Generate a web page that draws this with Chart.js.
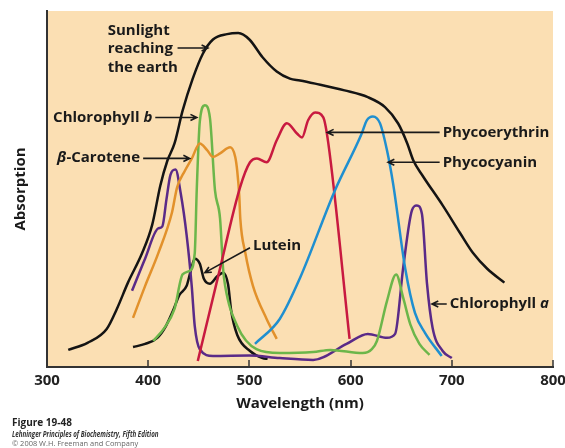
<!DOCTYPE html>
<html>
<head>
<meta charset="utf-8">
<script src="https://cdn.jsdelivr.net/npm/chart.js@4/dist/chart.umd.min.js"></script>
<style>
  body { margin: 0; background: #fff; }
  #wrap { position: relative; width: 565px; height: 448px; }
  .foot { position: absolute; left: 12px; white-space: nowrap; transform-origin: 0 0; font-family: "Open Sans", sans-serif; }
</style>
</head>
<body>
<div id="wrap">
  <canvas id="grafico" width="565" height="448"></canvas>
  <div class="foot" style="top:415px;font-size:10px;font-weight:700;color:#222">Figure 19-48</div>
  <div class="foot" style="top:427px;font-size:9px;font-weight:700;font-style:italic;color:#333;transform:scaleX(0.69)">Lehninger Principles of Biochemistry, Fifth Edition</div>
  <div class="foot" style="top:437px;font-size:8px;color:#666;transform:scaleX(0.93)">© 2008 W.H. Freeman and Company</div>
</div>
<script>
// valores (comprimento de onda em nm, absorção relativa 0-100)
const sunlightNm  = [321, 340, 359, 369, 380, 394, 404, 412, 419, 426, 434, 444, 454, 464, 478, 489, 500, 513, 527, 540, 550, 565, 594, 617, 634, 647, 656, 662, 671, 691, 708, 721, 735, 752];
const sunlightAbs = [4.8, 6.8, 10.7, 16.3, 23.7, 32, 40, 51, 58, 62.8, 72, 81, 88, 92, 93.5, 93.8, 92, 87, 83, 81, 80.5, 79.6, 77.7, 75.8, 73, 68.4, 62.8, 58, 53.8, 45.4, 37.7, 32, 27.6, 23.7];

const chlBNm  = [405, 416, 426, 434, 441, 446, 448, 451, 456, 461, 466, 471, 474, 476, 488, 507, 530, 563, 580, 612, 621, 626, 636, 645, 652, 659, 668, 678];
const chlBAbs = [7.3, 11, 16.3, 26, 27, 32, 50, 69, 73.5, 70, 49.6, 41.7, 27.6, 22.8, 11.5, 5, 3.9, 4.2, 4.8, 3.9, 5, 7.3, 18.6, 26, 19.4, 12, 6.5, 3.4];

const caroteneNm  = [385, 397, 410, 423.5, 428.5, 436, 443, 451, 458, 464, 471, 481, 486, 488, 490, 491, 496, 503.5, 517, 527];
const caroteneAbs = [13.8, 22.8, 32, 43.4, 50.4, 55, 58.5, 62.8, 61, 59, 60, 61.7, 59, 55, 48, 41.7, 32, 22.8, 13.5, 7.9];

const chlANm  = [384, 397, 409.7, 414, 418, 422, 427, 432, 438, 443, 446, 451, 464, 500, 530, 563, 596, 617, 636, 644, 652, 660.6, 665.5, 670.5, 675.5, 681, 691, 700];
const chlAAbs = [21.4, 30.5, 38.9, 39.5, 47, 54, 55.5, 49, 37, 22.8, 11.5, 5, 3.1, 3.2, 2.5, 2, 6.5, 9.3, 8.2, 9.3, 28, 44, 45.4, 43, 23.4, 11, 4.5, 2.5];

const phycoerythrinNm  = [449, 470, 490.7, 500.6, 507.5, 517, 527, 537, 547, 552, 558, 565, 573, 578, 599];
const phycoerythrinAbs = [1.7, 26.5, 50.4, 57.5, 58.6, 57.5, 63.7, 68.5, 65.6, 64.5, 69.3, 71.5, 70.1, 62.8, 7.9];

const phycocyaninNm  = [505.5, 530, 550, 584.5, 611, 616, 622, 629, 636, 642, 654, 663.6, 673.5, 690];
const phycocyaninAbs = [6.5, 13.5, 25, 49.6, 65.6, 69.3, 70.4, 68.5, 60.8, 51.5, 27.6, 15.2, 9.6, 3.1];

const luteinNm  = [385, 397, 409, 417.5, 424.5, 431, 438, 442, 446, 451, 455, 461, 468, 474, 479, 482, 488, 500.6, 513, 518];
const luteinAbs = [5.6, 6.5, 8.2, 11.5, 15.8, 20.3, 22.8, 27, 30.4, 29, 24.8, 23.4, 25.4, 26.5, 23.1, 15.8, 9, 4.5, 2.5, 2.3];

const xTicks = [300, 400, 500, 600, 700, 800];

// rótulos com seta (posições em nm / absorção)
const rotulos = [
  { partes: [['Sunlight', false]], x: 360, y: 94.4 },
  { partes: [['reaching', false]], x: 360, y: 89.3, seta: [429, 89.6, 459, 89.6] },
  { partes: [['the earth', false]], x: 360, y: 84.2 },
  { partes: [['Chlorophyll ', false], ['b', true]], x: 306, y: 70.1, seta: [407, 70.1, 448, 70.1] },
  { partes: [['β', true], ['-Carotene', false]], x: 310, y: 58.9, seta: [395, 58.6, 441, 58.6] },
  { partes: [['Phycoerythrin', false]], x: 691, y: 65.9, seta: [688, 65.9, 577, 65.9] },
  { partes: [['Phycocyanin', false]], x: 691, y: 57.5, seta: [688, 57.5, 637, 57.5] },
  { partes: [['Lutein', false]], x: 503.5, y: 34.1, seta: [500.6, 33.5, 456, 26.5] },
  { partes: [['Chlorophyll ', false], ['a', true]], x: 698, y: 17.7, seta: [695, 17.7, 680.4, 17.7] }
];

const fonte = '"Open Sans", sans-serif';

function pontos(xs, ys) {
  return xs.map((x, i) => ({ x, y: ys[i] }));
}

function serie(nome, xs, ys, cor) {
  return {
    label: nome,
    data: pontos(xs, ys),
    borderColor: cor,
    borderWidth: 2.5,
    pointRadius: 0,
    fill: false,
    cubicInterpolationMode: 'monotone'
  };
}

const fundoPlugin = {
  id: 'fundo',
  beforeDraw(chart) {
    const { ctx, chartArea: a } = chart;
    ctx.save();
    ctx.fillStyle = '#fbdfb3';
    ctx.fillRect(a.left, a.top, a.right - a.left, a.bottom - a.top);
    ctx.restore();
  },
  afterDraw(chart) {
    // pequenos traços do eixo x, voltados para dentro
    const { ctx, scales: { x, y } } = chart;
    ctx.save();
    ctx.strokeStyle = '#333';
    ctx.lineWidth = 1.5;
    xTicks.slice(1).forEach(v => {
      const px = Math.round(x.getPixelForValue(v));
      ctx.beginPath();
      ctx.moveTo(px, y.bottom);
      ctx.lineTo(px, y.bottom - 7);
      ctx.stroke();
    });
    ctx.restore();
  }
};

const rotulosPlugin = {
  id: 'rotulos',
  afterDatasetsDraw(chart) {
    const { ctx, scales: { x, y } } = chart;
    ctx.save();
    ctx.fillStyle = '#1a1a1a';
    ctx.strokeStyle = '#1a1a1a';
    ctx.textBaseline = 'middle';
    ctx.textAlign = 'left';
    rotulos.forEach(r => {
      let px = x.getPixelForValue(r.x);
      const py = y.getPixelForValue(r.y);
      r.partes.forEach(([t, it]) => {
        ctx.font = (it ? 'italic ' : '') + '700 15px ' + fonte;
        ctx.fillText(t, px, py);
        px += ctx.measureText(t).width;
      });
      if (r.seta) {
        const x1 = x.getPixelForValue(r.seta[0]), y1 = y.getPixelForValue(r.seta[1]);
        const x2 = x.getPixelForValue(r.seta[2]), y2 = y.getPixelForValue(r.seta[3]);
        const ang = Math.atan2(y2 - y1, x2 - x1);
        ctx.lineWidth = 1.6;
        ctx.beginPath();
        ctx.moveTo(x1, y1);
        ctx.lineTo(x2, y2);
        ctx.moveTo(x2 - 7 * Math.cos(ang - 0.45), y2 - 7 * Math.sin(ang - 0.45));
        ctx.lineTo(x2, y2);
        ctx.lineTo(x2 - 7 * Math.cos(ang + 0.45), y2 - 7 * Math.sin(ang + 0.45));
        ctx.stroke();
      }
    });
    ctx.restore();
  }
};

new Chart(document.getElementById('grafico'), {
  type: 'line',
  data: {
    datasets: [
      serie('Phycocyanin', phycocyaninNm, phycocyaninAbs, '#1f8fd0'),
      serie('Phycoerythrin', phycoerythrinNm, phycoerythrinAbs, '#c81a40'),
      serie('β-Carotene', caroteneNm, caroteneAbs, '#e2912b'),
      serie('Chlorophyll b', chlBNm, chlBAbs, '#6cb64a'),
      serie('Chlorophyll a', chlANm, chlAAbs, '#5a2a88'),
      serie('Lutein', luteinNm, luteinAbs, '#141414'),
      serie('Sunlight reaching the earth', sunlightNm, sunlightAbs, '#141414')
    ]
  },
  options: {
    responsive: false,
    animation: false,
    devicePixelRatio: 1,
    layout: { padding: { left: 4, right: 12, top: 11, bottom: 35 } },
    plugins: { legend: { display: false }, tooltip: { enabled: false } },
    scales: {
      x: {
        type: 'linear',
        min: 300,
        max: 800,
        afterBuildTicks: s => { s.ticks = xTicks.map(v => ({ value: v })); },
        // o rótulo "800" pode encostar na borda, como na figura
        afterFit: s => { s.paddingLeft = 0; s.paddingRight = 0; },
        ticks: { color: '#222', padding: 5, font: { family: fonte, size: 15, weight: '700' } },
        grid: { drawOnChartArea: false, drawTicks: false },
        border: { color: '#333', width: 2 },
        title: { display: true, text: 'Wavelength (nm)', color: '#1a1a1a', padding: { top: 0, bottom: 0 }, font: { family: fonte, size: 15, weight: '700' } }
      },
      y: {
        min: 0,
        max: 100,
        ticks: { display: false },
        grid: { drawOnChartArea: false, drawTicks: false },
        border: { color: '#333', width: 2 },
        title: { display: true, text: 'Absorption', color: '#1a1a1a', padding: { top: 8, bottom: 17 }, font: { family: fonte, size: 15, weight: '700' } }
      }
    }
  },
  plugins: [fundoPlugin, rotulosPlugin]
});
</script>
</body>
</html>
